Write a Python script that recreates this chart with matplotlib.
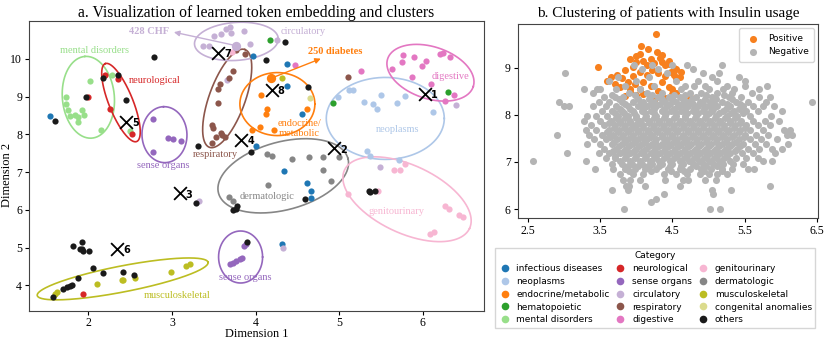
import numpy as np
import matplotlib.pyplot as plt
from matplotlib.lines import Line2D

plt.rcParams['font.family'] = 'serif'
plt.rcParams['font.serif'] = ['Liberation Serif', 'DejaVu Serif']

# ---------------- panel a data ----------------
cat_names = ['infectious diseases', 'neoplasms', 'endocrine/metabolic', 'hematopoietic',
             'mental disorders', 'neurological', 'sense organs', 'circulatory',
             'respiratory', 'digestive', 'genitourinary', 'dermatologic',
             'musculoskeletal', 'congenital anomalies', 'others']
cat_colors = ['#1f77b4', '#aec7e8', '#ff7f0e', '#2ca02c', '#98df8a', '#d62728', '#9467bd',
              '#c5b0d5', '#8c564b', '#e377c2', '#f7b6d2', '#868686', '#bcbd22', '#dbdb8d',
              '#1a1a1a']

infectious = [(1.54, 8.49), (3.97, 10.08), (4.37, 9.85), (4.37, 9.27), (4.56, 8.54),
              (4.00, 7.70), (4.34, 7.02), (4.61, 6.71), (4.66, 6.49), (4.66, 6.31), (4.31, 5.10)]
neoplasms = [(4.99, 8.98), (5.12, 9.16), (5.16, 9.18), (5.30, 8.85), (5.40, 8.80), (5.45, 8.67),
             (5.50, 9.05), (5.69, 8.83), (5.78, 9.02), (6.12, 8.58), (5.33, 7.55), (5.37, 7.43),
             (5.72, 7.33)]
endocrine = [(4.07, 9.03), (4.13, 8.67), (4.12, 8.54), (3.96, 8.12), (4.05, 8.19),
             (4.22, 8.12), (4.61, 8.67)]
hematopoietic = [(4.17, 10.50), (4.93, 8.83), (6.30, 9.12)]
mental = [(1.73, 9.00), (1.73, 8.81), (1.76, 8.65), (1.78, 8.49), (1.84, 8.52), (1.88, 8.45),
          (1.88, 8.33), (1.93, 8.65), (1.95, 8.52), (2.02, 9.42), (2.15, 8.12), (2.28, 9.56),
          (2.50, 8.10)]
neurological = [(1.99, 9.00), (2.20, 9.56), (2.35, 9.47), (2.26, 8.67), (2.52, 8.00), (1.94, 3.77)]
sense = [(2.77, 8.40), (2.95, 7.89), (3.01, 7.87), (3.11, 7.82), (2.77, 7.54), (3.69, 4.56),
         (3.73, 4.60), (3.77, 4.65), (3.81, 4.69), (3.84, 4.73), (3.86, 5.03), (3.88, 5.10)]
circulatory = [(3.37, 10.35), (3.44, 10.35), (3.50, 10.60), (3.59, 10.65), (3.64, 10.78),
               (3.69, 10.85), (3.71, 10.69), (3.86, 10.73), (3.93, 10.38), (4.25, 10.51),
               (3.66, 9.43), (6.40, 8.78), (5.49, 7.13), (3.32, 6.24), (4.33, 5.00)]
respiratory = [(3.76, 10.23), (3.87, 10.12), (3.73, 9.67), (3.68, 9.48), (3.57, 9.32),
               (3.55, 9.20), (3.55, 8.83), (3.48, 8.25), (3.49, 8.16), (3.53, 7.94),
               (3.58, 8.03), (3.63, 7.94), (3.48, 7.78), (3.60, 7.98), (5.11, 9.52)]
digestive = [(5.76, 10.10), (5.89, 10.04), (5.75, 9.91), (6.04, 9.94), (5.99, 9.80),
             (6.21, 10.13), (6.24, 10.14), (6.32, 10.04), (5.63, 9.73), (5.87, 9.52),
             (6.10, 9.32), (6.26, 8.87), (6.37, 9.05), (5.26, 9.67), (4.47, 9.84)]
genitourinary = [(3.72, 10.19), (5.78, 7.22), (5.66, 7.06), (5.73, 7.06), (5.11, 6.42),
                 (5.46, 6.50), (6.27, 6.10), (6.31, 6.02), (6.43, 5.86), (6.48, 5.81),
                 (6.13, 5.41), (6.09, 5.35)]
dermatologic = [(4.13, 7.47), (4.20, 7.42), (4.44, 7.35), (4.64, 7.40), (4.80, 7.40),
                (5.00, 7.40), (4.80, 7.06), (4.90, 6.77), (4.15, 6.65), (3.68, 6.33), (3.73, 6.24)]
musculoskeletal = [(1.62, 3.83), (1.60, 3.77), (2.10, 4.03), (2.40, 4.14), (2.42, 4.13),
                   (2.56, 4.19), (2.99, 4.34), (3.17, 4.52), (3.21, 4.57), (4.31, 9.49)]
congenital = [(4.65, 8.96)]
others = [(1.60, 8.35), (2.78, 10.05), (1.97, 8.99), (2.18, 9.48), (2.35, 9.58), (2.45, 8.90),
          (3.31, 7.69), (4.35, 10.44), (4.12, 9.96), (4.63, 9.25), (3.94, 7.52), (4.59, 6.29),
          (3.78, 6.09), (3.73, 6.00), (3.76, 6.03), (3.29, 6.19), (3.90, 5.16), (5.35, 6.50),
          (5.43, 6.50), (5.37, 6.47), (1.58, 3.70), (1.70, 3.89), (1.74, 3.95), (1.78, 3.99),
          (1.80, 4.01), (1.88, 4.19), (2.05, 4.45), (2.18, 4.32), (2.42, 4.35), (2.54, 4.27),
          (1.82, 5.05), (1.92, 5.14), (1.90, 4.96), (1.94, 4.92), (2.01, 4.91), (1.92, 4.95)]
cat_points = [infectious, neoplasms, endocrine, hematopoietic, mental, neurological, sense,
              circulatory, respiratory, digestive, genitourinary, dermatologic,
              musculoskeletal, congenital, others]

# highlighted codes
chf_point = (3.76, 10.35)
diabetes_point = (4.18, 9.48)

# cluster centres (X markers)
centre_ids = [1, 2, 3, 4, 5, 6, 7, 8]
centre_x = [6.02, 4.94, 3.09, 3.83, 2.45, 2.34, 3.55, 4.19]
centre_y = [9.08, 7.63, 6.44, 7.85, 8.33, 4.96, 10.16, 9.18]

# cluster labels: text, x, y, colour index
cluster_labels = [('mental disorders', 2.07, 10.22, 4), ('neurological', 2.79, 9.43, 5),
                  ('sense organs', 2.89, 7.17, 6), ('respiratory', 3.52, 7.46, 8),
                  ('circulatory', 4.57, 10.73, 7), ('endocrine/\nmetabolic', 4.52, 8.15, 2),
                  ('neoplasms', 5.70, 8.12, 1), ('digestive', 6.33, 9.52, 9),
                  ('dermatologic', 4.14, 6.35, 11), ('genitourinary', 5.69, 5.95, 10),
                  ('sense organs', 3.88, 4.20, 6), ('musculoskeletal', 3.06, 3.73, 12)]

# ellipses: centre x, centre y, semi axes (pixels), angle (deg), colour index
ellipses = [(2.00, 8.98, 41, 26, 95, 4), (2.39, 8.84, 42, 12, 112, 5),
            (2.91, 7.99, 28, 22.5, 92, 6), (3.66, 8.95, 52, 18, 70, 8),
            (3.77, 10.46, 42, 19, 4, 7), (4.26, 8.80, 37.5, 31.5, 0, 2),
            (5.55, 8.42, 59, 41, 0, 1), (6.09, 9.63, 45, 26, -18, 9),
            (4.33, 6.90, 67, 34, 15, 11), (5.81, 6.28, 69, 34, -25, 10),
            (3.82, 4.75, 22, 26, 0, 6), (2.41, 4.17, 87, 13, 11, 12)]

# ---------------- panel b data ----------------
pos_pts = [(4.27, 9.72), (4.07, 9.46), (4.16, 9.40), (3.99, 9.26), (4.29, 9.33), (4.36, 9.27),
           (4.33, 9.20), (3.47, 9.01), (3.91, 9.18), (4.00, 9.12), (4.10, 9.15), (4.20, 9.18),
           (4.25, 9.10), (4.35, 9.12), (4.40, 9.05), (4.45, 9.08), (4.52, 9.00), (4.55, 8.97),
           (4.62, 8.92), (4.60, 8.81), (4.52, 8.85), (4.55, 8.78), (3.65, 8.81), (3.73, 8.85),
           (3.85, 8.95), (3.80, 8.78), (3.88, 8.70), (3.95, 8.82), (4.05, 8.92), (4.15, 8.85),
           (4.22, 8.95), (4.30, 8.88), (4.40, 8.82), (4.48, 8.90), (3.70, 8.65), (3.78, 8.60),
           (3.92, 8.55), (3.98, 8.65), (4.10, 8.70), (4.20, 8.62), (4.35, 8.70), (4.45, 8.60),
           (4.50, 8.55), (4.10, 8.45), (4.19, 8.38), (3.92, 8.49), (4.00, 8.42), (4.30, 8.50),
           (4.75, 8.37), (4.55, 8.47), (4.50, 8.45), (3.85, 8.40), (4.25, 8.30), (4.40, 8.35),
           (3.60, 8.72), (4.05, 9.30), (4.15, 9.05), (3.95, 9.02), (4.45, 9.15), (4.05, 8.55)]

neg_rows = [
    (9.05, [3.97, 4.22, 4.50, 4.70, 5.18]),
    (8.98, [4.79, 4.30, 4.08]),
    (8.88, [3.02, 4.93, 5.15, 4.42]),
    (8.80, [3.75, 4.18, 5.05, 5.42]),
    (8.72, [5.12, 4.85, 5.50, 4.00, 4.55, 3.62]),
    (8.62, [5.50, 5.81, 4.80, 4.95, 5.25, 3.85, 4.25, 4.68]),
    (8.55, [3.28, 3.46, 3.50, 4.62, 5.00, 5.20, 5.35, 5.70, 4.05, 3.72]),
    (8.47, [3.40, 4.35, 4.75, 4.90, 5.12, 5.33, 5.60, 3.90, 4.15]),
    (8.43, [3.66, 3.98, 4.22, 4.52, 4.68, 4.97, 5.22]),
    (8.38, [3.55, 3.70, 3.82, 4.30, 4.45, 4.60, 4.82, 5.05, 5.28, 5.45, 5.70, 5.85]),
    (8.33, [3.76, 4.03, 4.18, 4.36, 4.50, 4.64, 4.77, 4.95, 5.10, 5.32]),
    (8.28, [2.93, 6.43, 3.48, 3.62, 3.80, 3.95, 4.10, 4.25, 4.40, 4.55, 4.70, 4.88, 5.02,
            5.18, 5.38, 5.55, 5.80]),
    (8.23, [3.85, 4.06, 4.20, 4.33, 4.47, 4.63, 4.78, 4.93, 5.08, 5.25, 5.44]),
    (8.18, [3.00, 3.07, 3.40, 3.58, 3.72, 3.88, 4.02, 4.15, 4.28, 4.42, 4.58, 4.72, 4.85,
            5.00, 5.12, 5.30, 5.48, 5.62, 5.75, 5.90]),
    (8.13, [3.78, 3.92, 4.10, 4.24, 4.38, 4.52, 4.67, 4.80, 4.94, 5.06, 5.24, 5.42]),
    (8.08, [3.52, 3.66, 3.80, 3.95, 4.08, 4.20, 4.35, 4.48, 4.62, 4.78, 4.92, 5.05, 5.20,
            5.35, 5.52, 5.68, 6.02]),
    (8.03, [3.70, 3.83, 3.97, 4.12, 4.25, 4.41, 4.55, 4.70, 4.86, 5.00, 5.15, 5.31, 5.47]),
    (7.98, [3.32, 3.45, 3.60, 3.75, 3.88, 4.00, 4.14, 4.27, 4.40, 4.55, 4.68, 4.82, 4.96,
            5.10, 5.25, 5.40, 5.58, 5.86]),
    (7.93, [3.72, 3.85, 3.99, 4.12, 4.25, 4.38, 4.52, 4.67, 4.81, 4.95, 5.09, 5.23, 5.37]),
    (7.88, [3.28, 3.50, 3.65, 3.78, 3.92, 4.05, 4.18, 4.32, 4.45, 4.60, 4.74, 4.88, 5.02,
            5.16, 5.30, 5.45, 5.62, 5.78, 5.97]),
    (7.83, [3.62, 3.77, 3.91, 4.04, 4.17, 4.31, 4.45, 4.59, 4.73, 4.87, 5.01, 5.15, 5.29,
            5.44]),
    (7.78, [3.38, 3.56, 3.70, 3.84, 3.98, 4.10, 4.24, 4.38, 4.52, 4.66, 4.80, 4.94, 5.08,
            5.22, 5.37, 5.52, 5.68, 5.85]),
    (7.73, [3.69, 3.83, 3.96, 4.09, 4.23, 4.37, 4.51, 4.65, 4.79, 4.93, 5.07, 5.21, 5.35,
            5.50]),
    (7.68, [3.30, 3.45, 3.62, 3.76, 3.90, 4.03, 4.16, 4.30, 4.44, 4.58, 4.72, 4.86, 5.00,
            5.14, 5.28, 5.43, 5.58, 5.75, 6.05, 6.12]),
    (7.63, [3.60, 3.75, 3.89, 4.03, 4.16, 4.29, 4.43, 4.57, 4.71, 4.85, 4.99, 5.13, 5.27,
            5.42]),
    (7.58, [2.90, 3.35, 3.52, 3.68, 3.82, 3.96, 4.10, 4.22, 4.36, 4.50, 4.64, 4.78, 4.92,
            5.06, 5.20, 5.35, 5.50, 5.66, 5.82, 6.08, 6.15]),
    (7.53, [3.64, 3.80, 3.94, 4.08, 4.21, 4.35, 4.49, 4.63, 4.77, 4.91, 5.05, 5.19, 5.33,
            5.49]),
    (7.48, [3.42, 3.58, 3.74, 3.88, 4.02, 4.15, 4.28, 4.42, 4.56, 4.70, 4.84, 4.98, 5.12,
            5.26, 5.42, 5.58, 5.72, 5.95]),
    (7.43, [3.69, 3.84, 3.98, 4.12, 4.26, 4.40, 4.54, 4.68, 4.82, 4.96, 5.10, 5.24, 5.38]),
    (7.38, [3.32, 3.50, 3.66, 3.80, 3.94, 4.08, 4.22, 4.35, 4.48, 4.62, 4.76, 4.90, 5.04,
            5.18, 5.32, 5.48, 5.64, 5.80, 6.10]),
    (7.33, [3.76, 3.90, 4.04, 4.18, 4.31, 4.45, 4.59, 4.73, 4.87, 5.01, 5.15, 5.29, 5.43]),
    (7.28, [3.55, 3.72, 3.86, 4.00, 4.13, 4.26, 4.40, 4.54, 4.68, 4.82, 4.96, 5.10, 5.24,
            5.40, 5.55, 5.70, 5.88, 6.02]),
    (7.23, [3.68, 3.83, 3.97, 4.10, 4.24, 4.38, 4.52, 4.66, 4.80, 4.94, 5.08, 5.22, 5.36]),
    (7.18, [3.04, 3.48, 3.62, 3.78, 3.92, 4.06, 4.20, 4.33, 4.46, 4.60, 4.74, 4.88, 5.02,
            5.16, 5.30, 5.46, 5.62, 5.92]),
    (7.13, [3.70, 3.86, 4.00, 4.14, 4.28, 4.42, 4.56, 4.70, 4.84, 4.98, 5.12, 5.26]),
    (7.08, [3.58, 3.70, 3.84, 3.98, 4.12, 4.25, 4.38, 4.52, 4.66, 4.80, 4.94, 5.08, 5.22,
            5.38, 5.52, 5.68]),
    (7.02, [2.57, 3.30, 5.75, 5.88]),
    (7.01, [3.77, 3.91, 4.05, 4.19, 4.32, 4.46, 4.60, 4.73, 4.87, 5.01, 5.15, 5.29]),
    (6.96, [3.66, 3.80, 3.94, 4.08, 4.22, 4.36, 4.50, 4.64, 4.78, 4.92, 5.06, 5.20, 5.34, 5.48]),
    (6.91, [3.88, 4.02, 4.16, 4.31, 4.47, 4.62, 4.82, 4.97, 5.11]),
    (6.86, [3.43, 3.68, 3.84, 3.98, 4.12, 4.28, 4.44, 4.60, 4.75, 4.90, 5.04, 5.18, 5.32,
            5.55, 5.63]),
    (6.80, [3.90, 4.20, 4.48, 4.66, 4.94, 5.18]),
    (6.74, [3.78, 3.95, 4.10, 4.38, 4.55, 4.70, 4.88, 5.00, 5.12, 5.25]),
    (6.62, [3.82, 3.92, 4.05, 4.40, 4.72, 4.65, 4.95, 5.10]),
    (6.50, [3.86, 3.90, 4.12, 4.60, 5.85]),
    (6.40, [3.66, 3.88, 5.31, 5.05]),
    (6.31, [4.38, 5.06]),
    (6.22, [4.28]),
    (6.15, [4.20]),
    (6.00, [3.83, 5.02, 5.16]),
]

# ---------------- figure ----------------
W, H = 830, 340
fig = plt.figure(figsize=(W / 100, H / 100), dpi=100)

ax = fig.add_axes([0.0349, 0.0853, 0.5482, 0.8529])
xlo, xhi, ylo, yhi = 1.29, 6.73, 3.32, 11.0
ax.set_xlim(xlo, xhi)
ax.set_ylim(ylo, yhi)
sx = 0.5482 * W / (xhi - xlo)
sy = 0.8529 * H / (yhi - ylo)

t = np.linspace(0, 2 * np.pi, 300)
for cx, cy, a, b, ang, ci in ellipses:
    th = np.deg2rad(ang)
    dx = a * np.cos(t) * np.cos(th) - b * np.sin(t) * np.sin(th)
    dy = a * np.cos(t) * np.sin(th) + b * np.sin(t) * np.cos(th)
    ax.plot(cx + dx / sx, cy + dy / sy, color=cat_colors[ci], lw=1.2, zorder=2)

for pts, col in zip(cat_points, cat_colors):
    p = np.array(pts)
    ax.scatter(p[:, 0], p[:, 1], s=20, color=col, linewidths=0, zorder=3)
ax.scatter(*chf_point, s=45, color=cat_colors[7], linewidths=0, zorder=3)
ax.scatter(*diabetes_point, s=45, color=cat_colors[2], linewidths=0, zorder=3)

for txt, x, y, ci in cluster_labels:
    ax.text(x, y, txt, color=cat_colors[ci], fontsize=7.5, ha='center', va='center',
            zorder=6, linespacing=1.1)

ax.annotate('', xy=(2.99, 10.72), xytext=chf_point,
            arrowprops=dict(arrowstyle='-|>', color=cat_colors[7], lw=1, mutation_scale=8))
ax.text(2.96, 10.72, '428 CHF', color=cat_colors[7], fontsize=7.5, fontweight='bold',
        ha='right', va='center')
ax.annotate('', xy=(4.81, 10.03), xytext=diabetes_point,
            arrowprops=dict(arrowstyle='-|>', color=cat_colors[2], lw=1, mutation_scale=8))
ax.text(4.63, 10.18, '250 diabetes', color=cat_colors[2], fontsize=7.5, fontweight='bold',
        ha='left', va='center')

ax.scatter(centre_x, centre_y, marker='x', s=85, c='black', linewidths=1.3, zorder=7)
for i, x, y in zip(centre_ids, centre_x, centre_y):
    ax.annotate(str(i), (x, y), xytext=(4.5, -1), textcoords='offset points', fontsize=7,
                fontweight='bold', family='DejaVu Sans', va='center', zorder=7)

ax.set_xticks([2, 3, 4, 5, 6])
ax.set_yticks([4, 5, 6, 7, 8, 9, 10])
ax.tick_params(labelsize=8.5, length=3, width=0.8, pad=2)
ax.tick_params(axis='x', pad=1.5)
ax.set_xlabel('Dimension 1', fontsize=8.8)
ax.set_ylabel('Dimension 2', fontsize=9)
ax.xaxis.set_label_coords(0.5, -0.058)
ax.yaxis.set_label_coords(-0.035, 0.47)
ax.set_title('a. Visualization of learned token embedding and clusters', fontsize=11.3, pad=3)
for s in ax.spines.values():
    s.set_color('#444444')

# ---------------- panel b ----------------
bx = fig.add_axes([0.6237, 0.3574, 0.3624, 0.5721])
bx.set_xlim(2.36, 6.52)
bx.set_ylim(5.80, 9.93)
pp = np.array(pos_pts)
bx.scatter(pp[:, 0], pp[:, 1], s=26, color='#f7801e', linewidths=0, label='Positive', zorder=3)
neg_x = [x for y, xs in neg_rows for x in xs]
neg_y = [y for y, xs in neg_rows for x in xs]
bx.scatter(neg_x, neg_y, s=26, color='#b4b4b4', linewidths=0, label='Negative', zorder=4)
bx.set_xticks([2.5, 3.5, 4.5, 5.5, 6.5])
bx.set_xticklabels(['2.5', '3.5', '4.5', '5.5', '6.5'])
bx.set_yticks([6, 7, 8, 9])
bx.tick_params(labelsize=8.5, length=3, width=0.8, pad=2)
bx.set_title('b. Clustering of patients with Insulin usage', fontsize=11, pad=5)
for s in bx.spines.values():
    s.set_color('#444444')
bx.legend(loc='upper right', prop={'family': 'DejaVu Sans', 'size': 6.5}, borderpad=0.6,
          handletextpad=0.6, labelspacing=0.5)

handles = [Line2D([], [], marker='o', linestyle='', markersize=5.5, color=c, markeredgewidth=0)
           for c in cat_colors]
fig.legend(handles, cat_names, ncol=3, title='Category', loc='upper left',
           bbox_to_anchor=(0.591, 0.283), prop={'family': 'DejaVu Sans', 'size': 6.5},
           title_fontproperties={'family': 'DejaVu Sans', 'size': 6.5},
           columnspacing=0.5, handletextpad=0.6, labelspacing=0.42, borderpad=0.35,
           handlelength=1.4, fancybox=False, edgecolor='#cccccc')

fig.savefig('out.png', dpi=100)
